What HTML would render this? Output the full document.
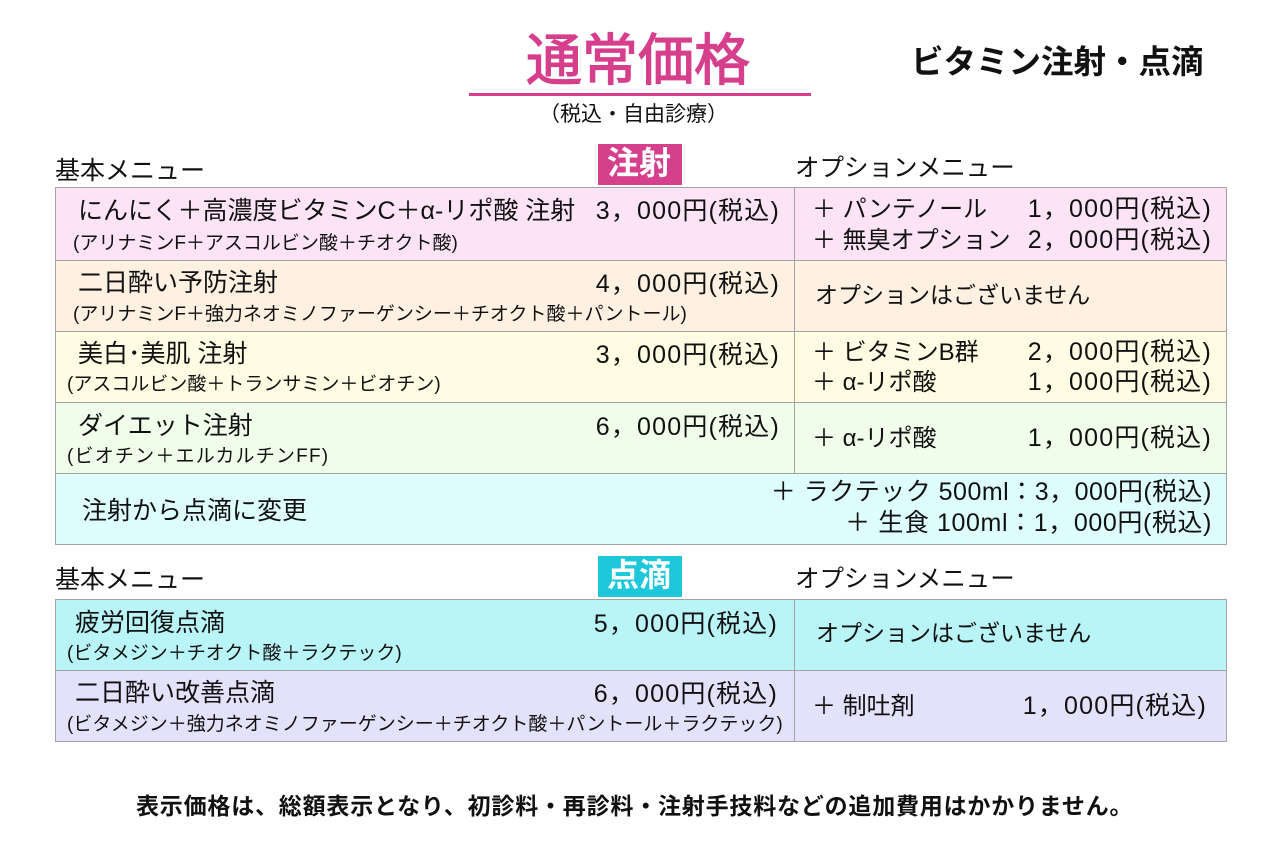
<!DOCTYPE html>
<html lang="ja">
<head>
<meta charset="utf-8">
<style>
  html,body{margin:0;padding:0;background:#fff;}
  body{width:1280px;height:853px;position:relative;overflow:hidden;
       font-family:"Liberation Sans","Noto Sans CJK JP",sans-serif;color:#111;}
  .t{position:absolute;line-height:1;white-space:nowrap;}
  .box{position:absolute;box-sizing:border-box;}
  .hl{position:absolute;height:1px;background:#a3a3a3;}
  .vl{position:absolute;width:1px;background:#a3a3a3;}
  .m{font-size:25px;}
  .s{font-size:19px;}
  .p{font-size:25px;letter-spacing:1.2px;}
  .o{font-size:24px;}
</style>
</head>
<body>

<!-- Title -->
<div class="t" style="left:526px;top:33px;font-size:56px;color:#d63f8c;-webkit-text-stroke:1.3px #d63f8c;">通常価格</div>
<div class="box" style="left:469px;top:93px;width:342px;height:3px;background:#d63f8c;"></div>
<div class="t" style="left:539px;top:104px;font-size:21px;">（税込・自由診療）</div>
<div class="t" style="left:911px;top:46px;font-size:32.5px;font-weight:bold;">ビタミン注射・点滴</div>

<!-- Section 1 headings -->
<div class="t" style="left:55px;top:159px;font-size:25px;">基本メニュー</div>
<div class="t" style="left:795px;top:157px;font-size:24.5px;">オプションメニュー</div>
<div class="box" style="left:598px;top:144px;width:84px;height:41px;background:#d63f8c;"></div>
<div class="t" style="left:607px;top:147px;font-size:32px;color:#fff;font-weight:bold;">注射</div>

<!-- Table 1 backgrounds -->
<div class="box" style="left:55px;top:188px;width:1171px;height:72px;background:#fce4f6;"></div>
<div class="box" style="left:55px;top:260px;width:1171px;height:71px;background:#fef1e1;"></div>
<div class="box" style="left:55px;top:331px;width:1171px;height:71px;background:#fefde3;"></div>
<div class="box" style="left:55px;top:402px;width:1171px;height:71px;background:#f0fdea;"></div>
<div class="box" style="left:55px;top:473px;width:1171px;height:71px;background:#defefe;"></div>
<!-- Table 1 borders -->
<div class="hl" style="left:55px;top:187px;width:1172px;"></div>
<div class="hl" style="left:55px;top:260px;width:1172px;"></div>
<div class="hl" style="left:55px;top:331px;width:1172px;"></div>
<div class="hl" style="left:55px;top:402px;width:1172px;"></div>
<div class="hl" style="left:55px;top:473px;width:1172px;"></div>
<div class="hl" style="left:55px;top:544px;width:1172px;"></div>
<div class="vl" style="left:55px;top:187px;height:358px;"></div>
<div class="vl" style="left:1226px;top:187px;height:358px;"></div>
<div class="vl" style="left:794px;top:187px;height:286px;"></div>

<!-- Table 1 row 1 -->
<div class="t m" style="left:78px;top:199px;">にんにく＋高濃度ビタミンC＋α-リポ酸 注射</div>
<div class="t p" style="right:500px;top:199px;">3，000円(税込)</div>
<div class="t s" style="left:73px;top:234px;">(アリナミンF＋アスコルビン酸＋チオクト酸)</div>
<div class="t o" style="left:812px;top:198px;">＋ パンテノール</div>
<div class="t p" style="right:68px;top:197px;">1，000円(税込)</div>
<div class="t o" style="left:812px;top:229px;">＋ 無臭オプション</div>
<div class="t p" style="right:68px;top:228px;">2，000円(税込)</div>

<!-- Table 1 row 2 -->
<div class="t m" style="left:78px;top:271px;">二日酔い予防注射</div>
<div class="t p" style="right:500px;top:272px;">4，000円(税込)</div>
<div class="t s" style="left:73px;top:305px;">(アリナミンF＋強力ネオミノファーゲンシー＋チオクト酸＋パントール)</div>
<div class="t" style="left:815px;top:284px;font-size:23px;">オプションはございません</div>

<!-- Table 1 row 3 -->
<div class="t m" style="left:78px;top:342px;">美白･美肌 注射</div>
<div class="t p" style="right:500px;top:343px;">3，000円(税込)</div>
<div class="t s" style="left:67px;top:375px;">(アスコルビン酸＋トランサミン＋ビオチン)</div>
<div class="t o" style="left:812px;top:341px;">＋ ビタミンB群</div>
<div class="t p" style="right:68px;top:340px;">2，000円(税込)</div>
<div class="t o" style="left:812px;top:371px;">＋ α-リポ酸</div>
<div class="t p" style="right:68px;top:370px;">1，000円(税込)</div>

<!-- Table 1 row 4 -->
<div class="t m" style="left:78px;top:414px;">ダイエット注射</div>
<div class="t p" style="right:500px;top:415px;">6，000円(税込)</div>
<div class="t s" style="left:67px;top:447px;letter-spacing:1.2px;">(ビオチン＋エルカルチンFF)</div>
<div class="t o" style="left:812px;top:427px;">＋ α-リポ酸</div>
<div class="t p" style="right:68px;top:426px;">1，000円(税込)</div>

<!-- Table 1 row 5 -->
<div class="t m" style="left:82px;top:499px;">注射から点滴に変更</div>
<div class="t p" style="right:68px;top:480px;letter-spacing:0.5px;">＋ ラクテック 500ml：3，000円(税込)</div>
<div class="t p" style="right:68px;top:511px;letter-spacing:0.6px;">＋ 生食 100ml：1，000円(税込)</div>

<!-- Section 2 headings -->
<div class="t" style="left:55px;top:568px;font-size:25px;">基本メニュー</div>
<div class="t" style="left:795px;top:568px;font-size:24.5px;">オプションメニュー</div>
<div class="box" style="left:598px;top:556px;width:84px;height:41px;background:#1ec8da;"></div>
<div class="t" style="left:607px;top:559px;font-size:32px;color:#fff;font-weight:bold;">点滴</div>

<!-- Table 2 backgrounds -->
<div class="box" style="left:55px;top:599px;width:1171px;height:71px;background:#b9f4f7;"></div>
<div class="box" style="left:55px;top:670px;width:1171px;height:71px;background:#e3e2fa;"></div>
<div class="hl" style="left:55px;top:599px;width:1172px;"></div>
<div class="hl" style="left:55px;top:670px;width:1172px;"></div>
<div class="hl" style="left:55px;top:741px;width:1172px;"></div>
<div class="vl" style="left:55px;top:599px;height:143px;"></div>
<div class="vl" style="left:1226px;top:599px;height:143px;"></div>
<div class="vl" style="left:794px;top:599px;height:143px;"></div>

<!-- Table 2 row 1 -->
<div class="t m" style="left:75px;top:611px;">疲労回復点滴</div>
<div class="t p" style="right:502px;top:612px;">5，000円(税込)</div>
<div class="t s" style="left:67px;top:644px;">(ビタメジン＋チオクト酸＋ラクテック)</div>
<div class="t" style="left:816px;top:622px;font-size:23px;">オプションはございません</div>

<!-- Table 2 row 2 -->
<div class="t m" style="left:75px;top:681px;">二日酔い改善点滴</div>
<div class="t p" style="right:502px;top:682px;">6，000円(税込)</div>
<div class="t s" style="left:67px;top:715px;">(ビタメジン＋強力ネオミノファーゲンシー＋チオクト酸＋パントール＋ラクテック)</div>
<div class="t o" style="left:812px;top:695px;">＋ 制吐剤</div>
<div class="t p" style="right:73px;top:694px;">1，000円(税込)</div>

<!-- Footer -->
<div class="t" style="left:136px;top:795px;font-size:23px;font-weight:bold;letter-spacing:0.8px;">表示価格は、総額表示となり、初診料・再診料・注射手技料などの追加費用はかかりません。</div>

</body>
</html>
